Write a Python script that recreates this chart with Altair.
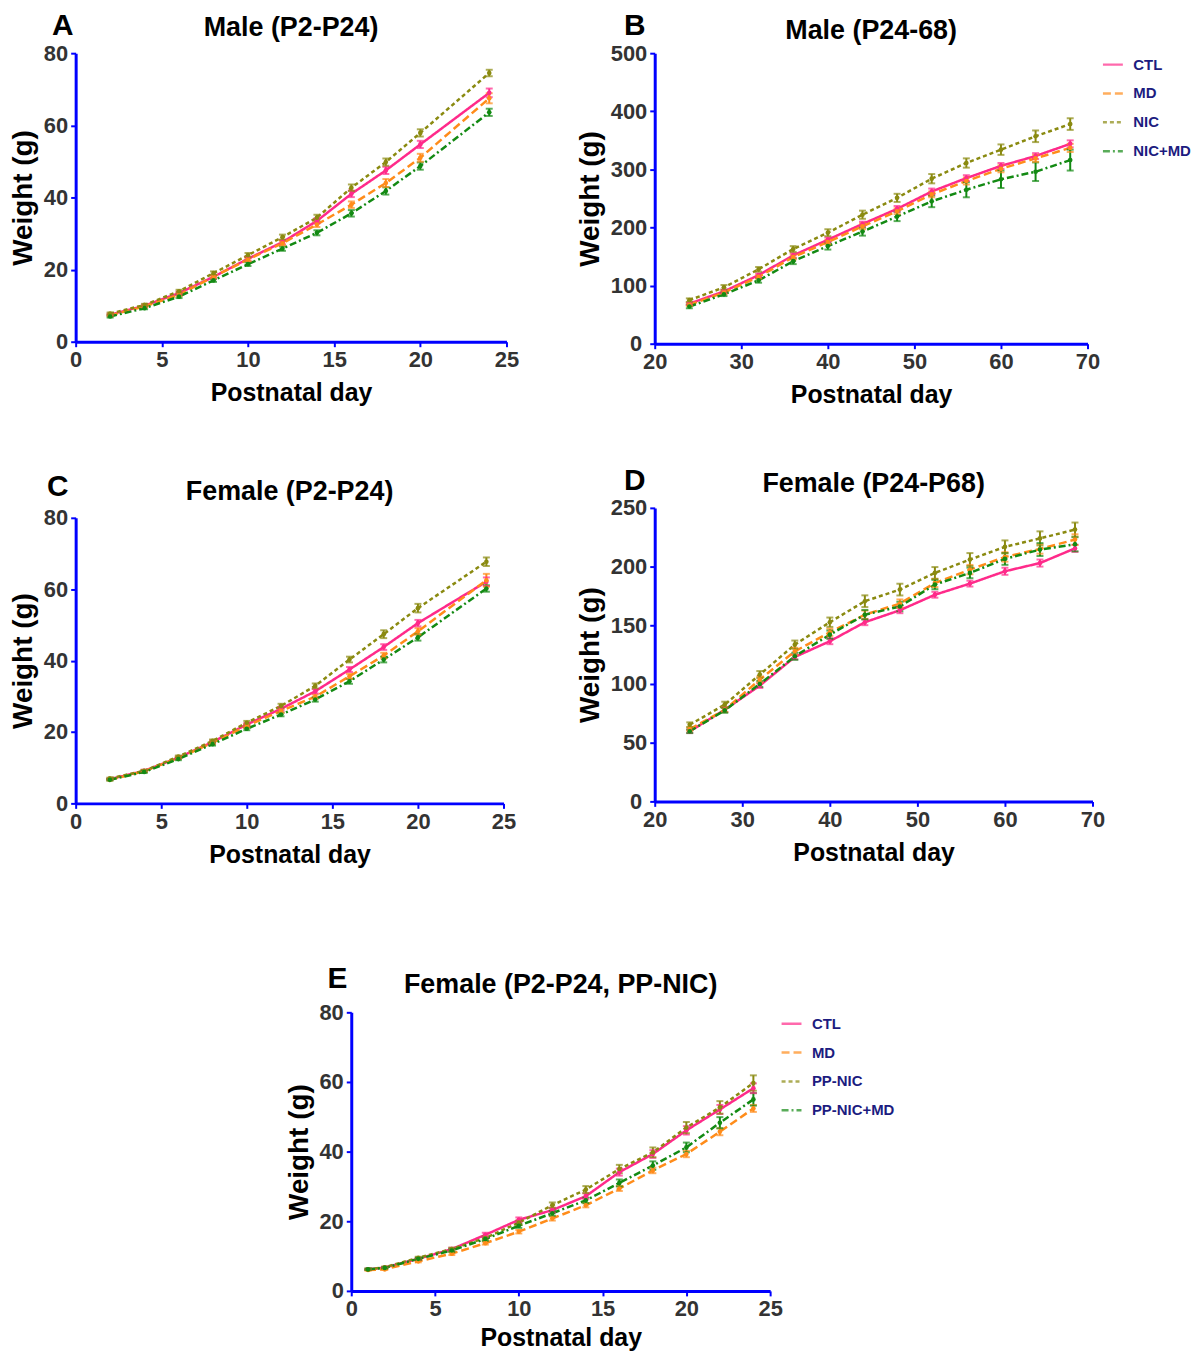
import altair as alt
import pandas as pd

# ---------------- data ----------------
GROUPS = ["CTL", "MD", "NIC", "NIC+MD"]
GROUPS_E = ["CTL", "MD", "PP-NIC", "PP-NIC+MD"]
COLORS = ["#ff2a8a", "#ff8c1a", "#8a8a10", "#138a13"]
DASHES = [[1, 0], [8, 4], [4, 3], [7, 3, 2, 3]]

days_early = [2, 4, 6, 8, 10, 12, 14, 16, 18, 20, 24]
days_late = [24, 28, 32, 36, 40, 44, 48, 52, 56, 60, 64, 68]
days_e = [1, 2, 4, 6, 8, 10, 12, 14, 16, 18, 20, 22, 24]

# Panel A - Male P2-P24
a_ctl = [7.5, 10.0, 13.5, 18.0, 23.0, 27.6, 33.5, 41.0, 47.5, 54.7, 69.0]
a_md = [7.3, 9.8, 13.0, 18.0, 22.8, 27.3, 32.5, 38.0, 44.0, 51.0, 67.5]
a_nic = [7.8, 10.2, 14.0, 19.0, 24.0, 29.0, 34.4, 42.7, 49.8, 57.9, 74.5]
a_nicmd = [7.0, 9.3, 12.5, 17.0, 21.5, 25.8, 30.2, 35.6, 41.8, 48.7, 63.6]
a_err_ctl = [0.3, 0.3, 0.4, 0.4, 0.5, 0.6, 0.7, 0.9, 1.0, 1.0, 1.2]
a_err_md = [0.3, 0.3, 0.4, 0.4, 0.5, 0.6, 0.7, 0.9, 1.1, 1.1, 1.4]
a_err_nic = [0.3, 0.3, 0.4, 0.5, 0.6, 0.7, 0.8, 0.9, 1.0, 1.0, 0.9]
a_err_nicmd = [0.3, 0.3, 0.4, 0.4, 0.5, 0.6, 0.7, 0.9, 1.0, 1.0, 1.0]

# Panel B - Male P24-68
b_ctl = [69, 90, 118, 152, 179, 206, 232, 262, 285, 306, 323, 344]
b_md = [67, 88, 115, 149, 175, 202, 228, 257, 280, 301, 319, 337]
b_nic = [75, 97, 128, 163, 191, 222, 251, 284, 311, 334, 357, 378]
b_nicmd = [64, 85, 109, 142, 168, 193, 219, 245, 265, 283, 296, 316]
b_err_ctl = [2, 3, 3, 4, 4, 4, 5, 5, 5, 5, 5, 6]
b_err_md = [2, 3, 3, 4, 4, 5, 5, 5, 6, 6, 6, 7]
b_err_nic = [3, 4, 4, 5, 6, 7, 7, 8, 8, 9, 10, 10]
b_err_nicmd = [3, 3, 4, 5, 6, 7, 8, 10, 13, 15, 16, 18]

# Panel C - Female P2-P24
c_ctl = [6.8, 9.1, 12.8, 17.2, 22.1, 26.5, 31.4, 37.5, 43.8, 50.5, 62.1]
c_md = [6.6, 9.0, 12.7, 17.0, 21.7, 25.9, 29.9, 35.6, 41.4, 48.2, 62.5]
c_nic = [7.0, 9.1, 13.1, 17.5, 22.6, 27.3, 32.9, 40.3, 47.4, 54.7, 67.7]
c_nicmd = [6.6, 8.8, 12.4, 16.6, 20.9, 24.9, 29.1, 34.2, 40.3, 46.5, 60.2]
c_err_ctl = [0.2, 0.3, 0.3, 0.4, 0.4, 0.5, 0.6, 0.7, 0.8, 0.9, 1.2]
c_err_md = [0.2, 0.3, 0.3, 0.4, 0.4, 0.5, 0.6, 0.7, 0.8, 0.9, 1.8]
c_err_nic = [0.2, 0.3, 0.3, 0.4, 0.5, 0.6, 0.7, 0.8, 1.1, 1.2, 1.2]
c_err_nicmd = [0.2, 0.3, 0.3, 0.4, 0.4, 0.5, 0.6, 0.7, 0.8, 0.9, 0.9]

# Panel D - Female P24-P68
d_ctl = [59.7, 78.1, 98.6, 123.0, 136.4, 152.6, 162.8, 176.0, 185.5, 196.0, 203.0, 215.5]
d_md = [61.6, 78.0, 103.7, 127.8, 144.0, 159.0, 168.5, 186.0, 197.4, 208.2, 215.0, 223.0]
d_nic = [65.3, 82.4, 108.0, 133.5, 152.6, 170.5, 180.4, 194.6, 206.0, 216.8, 224.0, 231.5]
d_nicmd = [59.7, 77.5, 100.0, 123.6, 142.0, 159.0, 166.0, 184.7, 194.6, 206.5, 214.5, 219.0]
d_err_ctl = [1.5, 2.0, 2.0, 2.0, 2.5, 2.5, 2.5, 2.5, 2.5, 3.0, 3.0, 3.0]
d_err_md = [1.5, 2.0, 2.5, 3.0, 3.0, 3.5, 3.5, 3.5, 4.0, 4.0, 4.0, 4.5]
d_err_nic = [2.0, 2.5, 3.0, 3.5, 4.0, 5.0, 5.0, 5.0, 5.5, 5.5, 6.0, 6.0]
d_err_nicmd = [1.5, 2.0, 2.5, 3.0, 3.5, 4.0, 4.0, 4.0, 4.5, 5.0, 5.5, 6.0]

# Panel E - Female P2-P24, PP-NIC
e_ctl = [6.2, 6.7, 9.2, 12.0, 16.1, 20.4, 23.2, 27.2, 34.1, 39.3, 46.1, 52.1, 58.2]
e_md = [6.0, 6.2, 8.5, 10.7, 13.7, 17.0, 20.8, 24.6, 29.4, 34.6, 39.3, 45.7, 52.4]
e_ppnic = [6.2, 6.8, 9.5, 12.0, 15.2, 19.6, 24.6, 29.1, 35.0, 39.8, 46.9, 52.7, 59.7]
e_ppnicmd = [6.2, 6.6, 9.2, 11.6, 14.9, 18.7, 22.3, 26.0, 31.0, 36.0, 41.2, 48.3, 55.0]
e_err_ctl = [0.2, 0.2, 0.3, 0.4, 0.6, 0.7, 0.7, 0.8, 1.0, 1.1, 1.2, 1.3, 1.4]
e_err_md = [0.2, 0.2, 0.3, 0.4, 0.4, 0.5, 0.6, 0.6, 0.7, 0.8, 0.9, 1.0, 1.0]
e_err_ppnic = [0.2, 0.2, 0.3, 0.4, 0.5, 0.6, 0.8, 1.0, 1.2, 1.4, 1.6, 1.8, 2.2]
e_err_ppnicmd = [0.2, 0.2, 0.3, 0.4, 0.5, 0.6, 0.7, 0.8, 1.0, 1.2, 1.4, 1.6, 1.8]


def long_df(days, groups, series, errors):
    rows = []
    for g, vals, errs in zip(groups, series, errors):
        for d, v, e in zip(days, vals, errs):
            rows.append({"day": d, "weight": v, "group": g, "lo": v - e, "hi": v + e})
    return pd.DataFrame(rows)


FONT = "Liberation Sans"
AXIS_COMMON = dict(
    domainColor="#0000ff", domainWidth=3, tickColor="#0000ff", tickWidth=2,
    tickSize=5, labelFont=FONT, labelFontSize=22, labelFontWeight="bold",
    labelColor="#333333", labelFlush=False, labelOverlap=False,
    titleFont=FONT, titleFontWeight="bold", titleColor="#000000", grid=False,
)


def panel(df, groups, xdom, xstep, ydom, ystep, title, letter, w, h,
          letter_xy, title_dy, legend_offset=None, xtitle_pad=10, zero_pad=3):
    xticks = list(range(xdom[0], xdom[1] + 1, xstep))
    yticks = list(range(ydom[0], ydom[1] + 1, ystep))
    x = alt.X("day:Q", scale=alt.Scale(domain=xdom, nice=False, zero=False),
              axis=alt.Axis(values=xticks, title="Postnatal day", titlePadding=xtitle_pad,
                            titleFontSize=25, labelPadding=3, **AXIS_COMMON))
    y = alt.Y("weight:Q", scale=alt.Scale(domain=ydom, nice=False),
              axis=alt.Axis(values=yticks, title="Weight (g)", titlePadding=6,
                            titleFontSize=28,
                            labelPadding=alt.condition("datum.value == 0",
                                                       alt.value(zero_pad), alt.value(3)),
                            **AXIS_COMMON))
    cscale = alt.Scale(domain=groups, range=COLORS)
    dscale = alt.Scale(domain=groups, range=DASHES)
    if legend_offset is not None:
        leg = alt.Legend(
            title=None, orient="right", offset=legend_offset, padding=0,
            symbolType="stroke", symbolSize=400, symbolStrokeWidth=2.5,
            labelFont=FONT, labelFontSize=15, labelFontWeight="bold",
            labelColor="#1c1c80", labelOffset=9, rowPadding=9,
        )
    else:
        leg = None
    col = alt.Color("group:N", scale=cscale, legend=leg)
    base = alt.Chart(df)
    lines = base.mark_line(strokeWidth=2.5).encode(
        x=x, y=y, color=col,
        strokeDash=alt.StrokeDash("group:N", scale=dscale, legend=leg),
        detail="group:N",
    )
    rules = base.mark_rule(strokeWidth=2).encode(
        x="day:Q", y="lo:Q", y2="hi:Q", color=col)
    caps_hi = base.mark_tick(orient="horizontal", size=7, thickness=2).encode(
        x="day:Q", y="hi:Q", color=col)
    caps_lo = base.mark_tick(orient="horizontal", size=7, thickness=2).encode(
        x="day:Q", y="lo:Q", color=col)
    pts = base.mark_point(filled=True, size=22, opacity=1).encode(
        x="day:Q", y="weight:Q", color=col)
    label_df = pd.DataFrame({"t": [title], "l": [letter]})
    ttl = alt.Chart(label_df).mark_text(
        font=FONT, fontSize=27, fontWeight="bold", color="#000000",
        align="center", baseline="middle",
    ).encode(x=alt.value(w / 2), y=alt.value(title_dy), text="t:N")
    let = alt.Chart(label_df).mark_text(
        font=FONT, fontSize=30, fontWeight="bold", color="#000000",
        align="center", baseline="middle",
    ).encode(x=alt.value(letter_xy[0]), y=alt.value(letter_xy[1]), text="l:N")
    layers = [lines, rules, caps_hi, caps_lo, pts, ttl, let]
    return alt.layer(*layers).properties(width=w, height=h)


dfA = long_df(days_early, GROUPS, [a_ctl, a_md, a_nic, a_nicmd],
              [a_err_ctl, a_err_md, a_err_nic, a_err_nicmd])
dfB = long_df(days_late, GROUPS, [b_ctl, b_md, b_nic, b_nicmd],
              [b_err_ctl, b_err_md, b_err_nic, b_err_nicmd])
dfC = long_df(days_early, GROUPS, [c_ctl, c_md, c_nic, c_nicmd],
              [c_err_ctl, c_err_md, c_err_nic, c_err_nicmd])
dfD = long_df(days_late, GROUPS, [d_ctl, d_md, d_nic, d_nicmd],
              [d_err_ctl, d_err_md, d_err_nic, d_err_nicmd])
dfE = long_df(days_e, GROUPS_E, [e_ctl, e_md, e_ppnic, e_ppnicmd],
              [e_err_ctl, e_err_md, e_err_ppnic, e_err_ppnicmd])

pA = panel(dfA, GROUPS, [0, 25], 5, [0, 80], 20, "Male (P2-P24)", "A", 433, 290,
           (-13, -27), -25)
pB = panel(dfB, GROUPS, [20, 70], 10, [0, 500], 100, "Male (P24-68)", "B", 435, 292,
           (-20, -27), -22, legend_offset=14, zero_pad=8)
pC = panel(dfC, GROUPS, [0, 25], 5, [0, 80], 20, "Female (P2-P24)", "C", 430, 287,
           (-18, -31), -26)
pD = panel(dfD, GROUPS, [20, 70], 10, [0, 250], 50, "Female (P24-P68)", "D", 440, 295,
           (-20, -27), -24, zero_pad=8)
pE = panel(dfE, GROUPS_E, [0, 25], 5, [0, 80], 20, "Female (P2-P24, PP-NIC)", "E", 421, 280,
           (-14, -33), -27, legend_offset=10, xtitle_pad=6)

spacer = alt.Chart(pd.DataFrame({"a": [0]})).mark_rule(strokeWidth=0, strokeOpacity=0).encode(
    x=alt.value(0), y=alt.value(0), y2=alt.value(1)
).properties(width=210, height=10)

RES = dict(color="independent", strokeDash="independent")
col1 = alt.vconcat(pA, pC, spacing=67).resolve_scale(**RES)
col2 = alt.vconcat(pB, pD, spacing=59).resolve_scale(**RES)
top = alt.hconcat(col1, col2, spacing=57).resolve_scale(**RES)
bottom = alt.hconcat(spacer, pE, spacing=0).resolve_scale(**RES)

chart = alt.vconcat(top, bottom, spacing=98).resolve_scale(**RES).properties(
    padding={"left": 1, "top": 0, "right": 0, "bottom": 0},
    background="white",
).configure_view(strokeWidth=0, stroke=None)

chart.save("out.html", embed_options={"renderer": "svg", "actions": False})
